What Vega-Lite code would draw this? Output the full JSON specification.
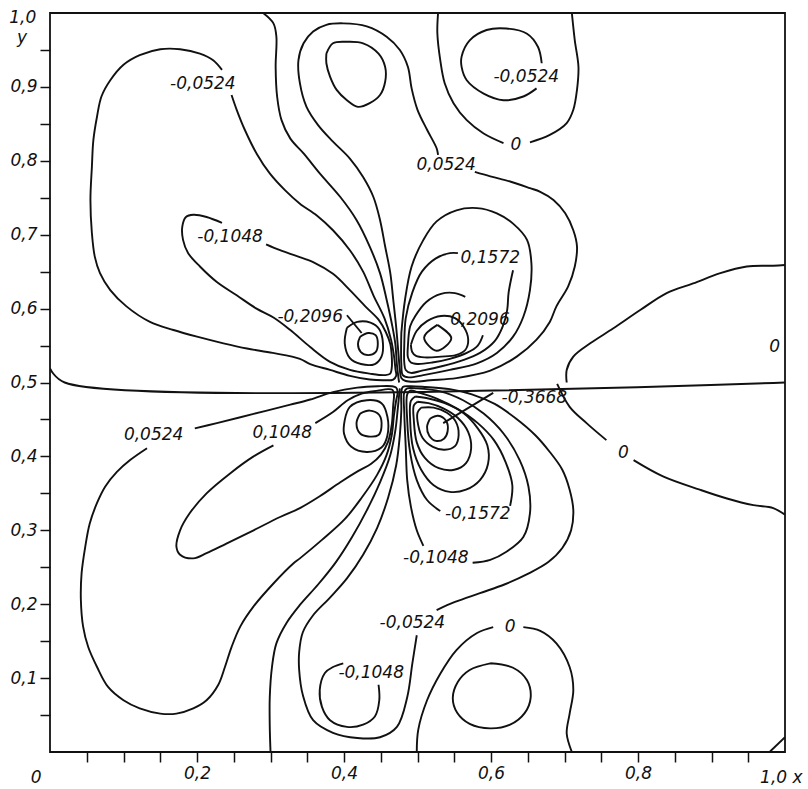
{
"$schema":"https://vega.github.io/schema/vega-lite/v6.json",
"width":735,"height":739,
"autosize":{"type":"none"},
"padding":{"left":50,"top":13,"right":23,"bottom":37},
"background":"white",
"config":{
"view":{"stroke":"#111","strokeWidth":1.8},
"axis":{"domain":false,"grid":false,"tickColor":"#111","tickWidth":1.5,"tickSize":10,"labelFont":"DejaVu Sans","labelFontStyle":"italic","labelFontSize":17,"labelColor":"#111","labelOverlap":false,"labelBound":false,"labelFlush":false,"labelPadding":3},
"text":{"font":"DejaVu Sans","fontStyle":"italic","fontSize":17,"fill":"#111","align":"center","baseline":"middle"}
},
"datasets":{
"lines":[
{"c":"mid","x":0,"y":0.519},{"c":"mid","x":0.02,"y":0.5},{"c":"mid","x":1,"y":0.5},
{"c":"br","x":0.979,"y":0},{"c":"br","x":1,"y":0.02},
{"c":"ul0","x":0.290,"y":1.0},{"c":"ul0","x":0.304,"y":0.986},{"c":"ul0","x":0.308,"y":0.968},{"c":"ul0","x":0.307,"y":0.927},{"c":"ul0","x":0.309,"y":0.887},{"c":"ul0","x":0.315,"y":0.855},{"c":"ul0","x":0.327,"y":0.830},{"c":"ul0","x":0.345,"y":0.810},{"c":"ul0","x":0.367,"y":0.783},{"c":"ul0","x":0.395,"y":0.751},{"c":"ul0","x":0.417,"y":0.720},{"c":"ul0","x":0.435,"y":0.684},{"c":"ul0","x":0.449,"y":0.648},{"c":"ul0","x":0.458,"y":0.612},{"c":"ul0","x":0.466,"y":0.575},{"c":"ul0","x":0.470,"y":0.551},{"c":"ul0","x":0.472,"y":0.524},{"c":"ul0","x":0.474,"y":0.507},{"c":"ul0","x":0.475,"y":0.5},
{"c":"ul1","x":0.247,"y":0.889},{"c":"ul1","x":0.254,"y":0.869},{"c":"ul1","x":0.265,"y":0.842},{"c":"ul1","x":0.281,"y":0.810},{"c":"ul1","x":0.299,"y":0.783},{"c":"ul1","x":0.320,"y":0.760},{"c":"ul1","x":0.340,"y":0.742},{"c":"ul1","x":0.363,"y":0.726},{"c":"ul1","x":0.385,"y":0.706},{"c":"ul1","x":0.408,"y":0.679},{"c":"ul1","x":0.426,"y":0.650},{"c":"ul1","x":0.440,"y":0.618},{"c":"ul1","x":0.455,"y":0.587},{"c":"ul1","x":0.464,"y":0.558},{"c":"ul1","x":0.468,"y":0.536},{"c":"ul1","x":0.470,"y":0.518},{"c":"ul1","x":0.471,"y":0.509},{"c":"ul1","x":0.467,"y":0.504},{"c":"ul1","x":0.456,"y":0.503},{"c":"ul1","x":0.435,"y":0.504},{"c":"ul1","x":0.408,"y":0.509},{"c":"ul1","x":0.381,"y":0.517},{"c":"ul1","x":0.354,"y":0.525},{"c":"ul1","x":0.340,"y":0.532},{"c":"ul1","x":0.303,"y":0.540},{"c":"ul1","x":0.268,"y":0.546},{"c":"ul1","x":0.236,"y":0.553},{"c":"ul1","x":0.200,"y":0.562},{"c":"ul1","x":0.168,"y":0.571},{"c":"ul1","x":0.136,"y":0.582},{"c":"ul1","x":0.104,"y":0.603},{"c":"ul1","x":0.082,"y":0.625},{"c":"ul1","x":0.068,"y":0.648},{"c":"ul1","x":0.061,"y":0.670},{"c":"ul1","x":0.057,"y":0.702},{"c":"ul1","x":0.055,"y":0.747},{"c":"ul1","x":0.057,"y":0.792},{"c":"ul1","x":0.059,"y":0.828},{"c":"ul1","x":0.064,"y":0.860},{"c":"ul1","x":0.070,"y":0.887},{"c":"ul1","x":0.082,"y":0.909},{"c":"ul1","x":0.100,"y":0.930},{"c":"ul1","x":0.122,"y":0.943},{"c":"ul1","x":0.150,"y":0.951},{"c":"ul1","x":0.177,"y":0.951},{"c":"ul1","x":0.204,"y":0.945},{"c":"ul1","x":0.222,"y":0.936},{"c":"ul1","x":0.234,"y":0.923},
{"c":"ul2","x":0.294,"y":0.687},{"c":"ul2","x":0.313,"y":0.679},{"c":"ul2","x":0.336,"y":0.671},{"c":"ul2","x":0.358,"y":0.663},{"c":"ul2","x":0.385,"y":0.647},{"c":"ul2","x":0.408,"y":0.625},{"c":"ul2","x":0.430,"y":0.602},{"c":"ul2","x":0.447,"y":0.585},{"c":"ul2","x":0.457,"y":0.568},{"c":"ul2","x":0.463,"y":0.552},{"c":"ul2","x":0.465,"y":0.535},{"c":"ul2","x":0.465,"y":0.520},{"c":"ul2","x":0.463,"y":0.512},{"c":"ul2","x":0.456,"y":0.510},{"c":"ul2","x":0.435,"y":0.512},{"c":"ul2","x":0.408,"y":0.517},{"c":"ul2","x":0.381,"y":0.528},{"c":"ul2","x":0.354,"y":0.548},{"c":"ul2","x":0.327,"y":0.571},{"c":"ul2","x":0.304,"y":0.588},{"c":"ul2","x":0.281,"y":0.600},{"c":"ul2","x":0.254,"y":0.618},{"c":"ul2","x":0.227,"y":0.636},{"c":"ul2","x":0.204,"y":0.657},{"c":"ul2","x":0.188,"y":0.675},{"c":"ul2","x":0.181,"y":0.693},{"c":"ul2","x":0.180,"y":0.711},{"c":"ul2","x":0.185,"y":0.724},{"c":"ul2","x":0.195,"y":0.727},{"c":"ul2","x":0.213,"y":0.724},{"c":"ul2","x":0.234,"y":0.716},
{"c":"ulb","x":0.404,"y":0.574},{"c":"ulb","x":0.418,"y":0.582},{"c":"ulb","x":0.436,"y":0.581},{"c":"ulb","x":0.448,"y":0.572},{"c":"ulb","x":0.453,"y":0.553},{"c":"ulb","x":0.451,"y":0.535},{"c":"ulb","x":0.442,"y":0.525},{"c":"ulb","x":0.423,"y":0.525},{"c":"ulb","x":0.408,"y":0.533},{"c":"ulb","x":0.401,"y":0.553},{"c":"ulb","x":0.404,"y":0.574},
{"c":"ula","x":0.422,"y":0.562},{"c":"ula","x":0.433,"y":0.567},{"c":"ula","x":0.443,"y":0.564},{"c":"ula","x":0.446,"y":0.552},{"c":"ula","x":0.443,"y":0.541},{"c":"ula","x":0.433,"y":0.537},{"c":"ula","x":0.423,"y":0.541},{"c":"ula","x":0.419,"y":0.552},{"c":"ula","x":0.422,"y":0.562},
{"c":"lead1","x":0.404,"y":0.591},{"c":"lead1","x":0.424,"y":0.567},
{"c":"la","x":0.376,"y":0.945},{"c":"la","x":0.385,"y":0.959},{"c":"la","x":0.404,"y":0.961},{"c":"la","x":0.426,"y":0.959},{"c":"la","x":0.447,"y":0.945},{"c":"la","x":0.456,"y":0.927},{"c":"la","x":0.456,"y":0.907},{"c":"la","x":0.449,"y":0.889},{"c":"la","x":0.435,"y":0.878},{"c":"la","x":0.419,"y":0.873},{"c":"la","x":0.404,"y":0.882},{"c":"la","x":0.390,"y":0.896},{"c":"la","x":0.381,"y":0.914},{"c":"la","x":0.376,"y":0.932},{"c":"la","x":0.376,"y":0.945},
{"c":"c3","x":0.528,"y":0.808},{"c":"c3","x":0.526,"y":0.817},{"c":"c3","x":0.513,"y":0.842},{"c":"c3","x":0.500,"y":0.869},{"c":"c3","x":0.492,"y":0.898},{"c":"c3","x":0.487,"y":0.927},{"c":"c3","x":0.476,"y":0.950},{"c":"c3","x":0.458,"y":0.968},{"c":"c3","x":0.431,"y":0.982},{"c":"c3","x":0.399,"y":0.986},{"c":"c3","x":0.376,"y":0.984},{"c":"c3","x":0.358,"y":0.975},{"c":"c3","x":0.345,"y":0.959},{"c":"c3","x":0.338,"y":0.936},{"c":"c3","x":0.340,"y":0.905},{"c":"c3","x":0.349,"y":0.873},{"c":"c3","x":0.365,"y":0.848},{"c":"c3","x":0.385,"y":0.826},{"c":"c3","x":0.408,"y":0.803},{"c":"c3","x":0.426,"y":0.778},{"c":"c3","x":0.440,"y":0.751},{"c":"c3","x":0.449,"y":0.720},{"c":"c3","x":0.456,"y":0.684},{"c":"c3","x":0.463,"y":0.648},{"c":"c3","x":0.467,"y":0.612},{"c":"c3","x":0.471,"y":0.575},{"c":"c3","x":0.474,"y":0.540},{"c":"c3","x":0.476,"y":0.517},{"c":"c3","x":0.478,"y":0.506},{"c":"c3","x":0.484,"y":0.502},{"c":"c3","x":0.497,"y":0.501},{"c":"c3","x":0.517,"y":0.503},{"c":"c3","x":0.553,"y":0.506},{"c":"c3","x":0.599,"y":0.516},{"c":"c3","x":0.635,"y":0.535},{"c":"c3","x":0.662,"y":0.558},{"c":"c3","x":0.680,"y":0.582},{"c":"c3","x":0.689,"y":0.603},{"c":"c3","x":0.705,"y":0.630},{"c":"c3","x":0.714,"y":0.657},{"c":"c3","x":0.717,"y":0.684},{"c":"c3","x":0.712,"y":0.706},{"c":"c3","x":0.701,"y":0.729},{"c":"c3","x":0.685,"y":0.747},{"c":"c3","x":0.667,"y":0.758},{"c":"c3","x":0.653,"y":0.763},{"c":"c3","x":0.626,"y":0.772},{"c":"c3","x":0.599,"y":0.779},{"c":"c3","x":0.578,"y":0.785},
{"c":"tr0a","x":0.528,"y":1.0},{"c":"tr0a","x":0.527,"y":0.973},{"c":"tr0a","x":0.531,"y":0.936},{"c":"tr0a","x":0.537,"y":0.905},{"c":"tr0a","x":0.549,"y":0.878},{"c":"tr0a","x":0.567,"y":0.855},{"c":"tr0a","x":0.590,"y":0.837},{"c":"tr0a","x":0.617,"y":0.824},
{"c":"tr0b","x":0.653,"y":0.825},{"c":"tr0b","x":0.680,"y":0.835},{"c":"tr0b","x":0.703,"y":0.851},{"c":"tr0b","x":0.712,"y":0.869},{"c":"tr0b","x":0.717,"y":0.896},{"c":"tr0b","x":0.719,"y":0.927},{"c":"tr0b","x":0.714,"y":0.963},{"c":"tr0b","x":0.710,"y":1.0},
{"c":"trl","x":0.669,"y":0.932},{"c":"trl","x":0.664,"y":0.954},{"c":"trl","x":0.649,"y":0.972},{"c":"trl","x":0.621,"y":0.979},{"c":"trl","x":0.594,"y":0.977},{"c":"trl","x":0.571,"y":0.963},{"c":"trl","x":0.560,"y":0.941},{"c":"trl","x":0.560,"y":0.927},{"c":"trl","x":0.567,"y":0.909},{"c":"trl","x":0.590,"y":0.891},{"c":"trl","x":0.617,"y":0.882},{"c":"trl","x":0.644,"y":0.887},{"c":"trl","x":0.662,"y":0.898},
{"c":"r0","x":1.0,"y":0.659},{"c":"r0","x":0.984,"y":0.658},{"c":"r0","x":0.948,"y":0.657},{"c":"r0","x":0.912,"y":0.648},{"c":"r0","x":0.875,"y":0.634},{"c":"r0","x":0.839,"y":0.621},{"c":"r0","x":0.803,"y":0.598},{"c":"r0","x":0.766,"y":0.573},{"c":"r0","x":0.735,"y":0.553},{"c":"r0","x":0.712,"y":0.535},{"c":"r0","x":0.703,"y":0.517},{"c":"r0","x":0.703,"y":0.5},
{"c":"c4","x":0.478,"y":0.567},{"c":"c4","x":0.483,"y":0.612},{"c":"c4","x":0.492,"y":0.657},{"c":"c4","x":0.508,"y":0.693},{"c":"c4","x":0.526,"y":0.718},{"c":"c4","x":0.553,"y":0.733},{"c":"c4","x":0.581,"y":0.736},{"c":"c4","x":0.608,"y":0.729},{"c":"c4","x":0.630,"y":0.715},{"c":"c4","x":0.649,"y":0.693},{"c":"c4","x":0.655,"y":0.661},{"c":"c4","x":0.653,"y":0.625},{"c":"c4","x":0.644,"y":0.589},{"c":"c4","x":0.630,"y":0.562},{"c":"c4","x":0.608,"y":0.540},{"c":"c4","x":0.581,"y":0.526},{"c":"c4","x":0.544,"y":0.517},{"c":"c4","x":0.508,"y":0.510},{"c":"c4","x":0.488,"y":0.507},{"c":"c4","x":0.480,"y":0.510},{"c":"c4","x":0.478,"y":0.525},{"c":"c4","x":0.478,"y":0.567},
{"c":"r2","x":0.630,"y":0.652},{"c":"r2","x":0.624,"y":0.622},{"c":"r2","x":0.622,"y":0.598},{"c":"r2","x":0.616,"y":0.576},{"c":"r2","x":0.605,"y":0.556},{"c":"r2","x":0.585,"y":0.540},{"c":"r2","x":0.561,"y":0.530},{"c":"r2","x":0.533,"y":0.522},{"c":"r2","x":0.506,"y":0.516},{"c":"r2","x":0.491,"y":0.513},{"c":"r2","x":0.484,"y":0.517},{"c":"r2","x":0.482,"y":0.527},{"c":"r2","x":0.482,"y":0.551},{"c":"r2","x":0.484,"y":0.587},{"c":"r2","x":0.493,"y":0.622},{"c":"r2","x":0.506,"y":0.650},{"c":"r2","x":0.525,"y":0.668},{"c":"r2","x":0.544,"y":0.675},{"c":"r2","x":0.555,"y":0.675},
{"c":"r3","x":0.589,"y":0.564},{"c":"r3","x":0.582,"y":0.550},{"c":"r3","x":0.567,"y":0.540},{"c":"r3","x":0.544,"y":0.532},{"c":"r3","x":0.520,"y":0.527},{"c":"r3","x":0.500,"y":0.525},{"c":"r3","x":0.491,"y":0.527},{"c":"r3","x":0.487,"y":0.534},{"c":"r3","x":0.487,"y":0.550},{"c":"r3","x":0.490,"y":0.576},{"c":"r3","x":0.497,"y":0.590},{"c":"r3","x":0.512,"y":0.609},{"c":"r3","x":0.532,"y":0.620},{"c":"r3","x":0.551,"y":0.621},{"c":"r3","x":0.565,"y":0.616},
{"c":"r4","x":0.491,"y":0.551},{"c":"r4","x":0.499,"y":0.570},{"c":"r4","x":0.513,"y":0.583},{"c":"r4","x":0.532,"y":0.590},{"c":"r4","x":0.551,"y":0.587},{"c":"r4","x":0.563,"y":0.575},{"c":"r4","x":0.569,"y":0.558},{"c":"r4","x":0.565,"y":0.544},{"c":"r4","x":0.552,"y":0.537},{"c":"r4","x":0.532,"y":0.535},{"c":"r4","x":0.510,"y":0.534},{"c":"r4","x":0.498,"y":0.536},{"c":"r4","x":0.493,"y":0.541},{"c":"r4","x":0.491,"y":0.551},
{"c":"dia","x":0.527,"y":0.578},{"c":"dia","x":0.546,"y":0.560},{"c":"dia","x":0.526,"y":0.543},{"c":"dia","x":0.509,"y":0.561},{"c":"dia","x":0.527,"y":0.578},
{"c":"lr0a","x":0.690,"y":0.498},{"c":"lr0a","x":0.707,"y":0.467},{"c":"lr0a","x":0.730,"y":0.445},{"c":"lr0a","x":0.757,"y":0.422},
{"c":"lr0b","x":0.794,"y":0.395},{"c":"lr0b","x":0.834,"y":0.373},{"c":"lr0b","x":0.884,"y":0.355},{"c":"lr0b","x":0.921,"y":0.343},{"c":"lr0b","x":0.957,"y":0.334},{"c":"lr0b","x":0.984,"y":0.330},{"c":"lr0b","x":1.0,"y":0.321},
{"c":"ll1","x":0.197,"y":0.438},{"c":"ll1","x":0.227,"y":0.445},{"c":"ll1","x":0.259,"y":0.453},{"c":"ll1","x":0.295,"y":0.462},{"c":"ll1","x":0.327,"y":0.470},{"c":"ll1","x":0.354,"y":0.477},{"c":"ll1","x":0.385,"y":0.487},{"c":"ll1","x":0.418,"y":0.493},{"c":"ll1","x":0.446,"y":0.495},{"c":"ll1","x":0.465,"y":0.495},{"c":"ll1","x":0.471,"y":0.493},{"c":"ll1","x":0.473,"y":0.487},{"c":"ll1","x":0.471,"y":0.476},{"c":"ll1","x":0.468,"y":0.456},{"c":"ll1","x":0.465,"y":0.429},{"c":"ll1","x":0.458,"y":0.402},{"c":"ll1","x":0.445,"y":0.375},{"c":"ll1","x":0.424,"y":0.344},{"c":"ll1","x":0.401,"y":0.315},{"c":"ll1","x":0.370,"y":0.287},{"c":"ll1","x":0.340,"y":0.262},{"c":"ll1","x":0.331,"y":0.255},{"c":"ll1","x":0.304,"y":0.228},{"c":"ll1","x":0.277,"y":0.197},{"c":"ll1","x":0.259,"y":0.170},{"c":"ll1","x":0.247,"y":0.142},{"c":"ll1","x":0.238,"y":0.115},{"c":"ll1","x":0.229,"y":0.091},{"c":"ll1","x":0.213,"y":0.070},{"c":"ll1","x":0.195,"y":0.059},{"c":"ll1","x":0.172,"y":0.052},{"c":"ll1","x":0.150,"y":0.052},{"c":"ll1","x":0.122,"y":0.059},{"c":"ll1","x":0.100,"y":0.070},{"c":"ll1","x":0.079,"y":0.088},{"c":"ll1","x":0.064,"y":0.115},{"c":"ll1","x":0.052,"y":0.142},{"c":"ll1","x":0.045,"y":0.170},{"c":"ll1","x":0.042,"y":0.206},{"c":"ll1","x":0.043,"y":0.242},{"c":"ll1","x":0.048,"y":0.278},{"c":"ll1","x":0.054,"y":0.309},{"c":"ll1","x":0.064,"y":0.337},{"c":"ll1","x":0.075,"y":0.359},{"c":"ll1","x":0.091,"y":0.379},{"c":"ll1","x":0.109,"y":0.395},{"c":"ll1","x":0.132,"y":0.411},
{"c":"ll2","x":0.361,"y":0.445},{"c":"ll2","x":0.385,"y":0.460},{"c":"ll2","x":0.405,"y":0.476},{"c":"ll2","x":0.424,"y":0.485},{"c":"ll2","x":0.446,"y":0.489},{"c":"ll2","x":0.460,"y":0.491},{"c":"ll2","x":0.466,"y":0.490},{"c":"ll2","x":0.468,"y":0.484},{"c":"ll2","x":0.467,"y":0.470},{"c":"ll2","x":0.465,"y":0.443},{"c":"ll2","x":0.460,"y":0.420},{"c":"ll2","x":0.450,"y":0.402},{"c":"ll2","x":0.437,"y":0.390},{"c":"ll2","x":0.419,"y":0.380},{"c":"ll2","x":0.395,"y":0.365},{"c":"ll2","x":0.367,"y":0.346},{"c":"ll2","x":0.340,"y":0.330},{"c":"ll2","x":0.313,"y":0.318},{"c":"ll2","x":0.277,"y":0.300},{"c":"ll2","x":0.240,"y":0.282},{"c":"ll2","x":0.213,"y":0.269},{"c":"ll2","x":0.195,"y":0.262},{"c":"ll2","x":0.177,"y":0.267},{"c":"ll2","x":0.172,"y":0.278},{"c":"ll2","x":0.177,"y":0.300},{"c":"ll2","x":0.190,"y":0.323},{"c":"ll2","x":0.213,"y":0.350},{"c":"ll2","x":0.245,"y":0.377},{"c":"ll2","x":0.277,"y":0.400},{"c":"ll2","x":0.304,"y":0.415},
{"c":"llb","x":0.401,"y":0.449},{"c":"llb","x":0.408,"y":0.467},{"c":"llb","x":0.431,"y":0.476},{"c":"llb","x":0.451,"y":0.472},{"c":"llb","x":0.459,"y":0.454},{"c":"llb","x":0.459,"y":0.428},{"c":"llb","x":0.451,"y":0.412},{"c":"llb","x":0.431,"y":0.406},{"c":"llb","x":0.410,"y":0.413},{"c":"llb","x":0.400,"y":0.431},{"c":"llb","x":0.401,"y":0.449},
{"c":"lla","x":0.422,"y":0.458},{"c":"lla","x":0.435,"y":0.462},{"c":"lla","x":0.448,"y":0.456},{"c":"lla","x":0.451,"y":0.440},{"c":"lla","x":0.447,"y":0.429},{"c":"lla","x":0.433,"y":0.427},{"c":"lla","x":0.422,"y":0.431},{"c":"lla","x":0.417,"y":0.445},{"c":"lla","x":0.422,"y":0.458},
{"c":"ll0","x":0.300,"y":0.001},{"c":"ll0","x":0.299,"y":0.034},{"c":"ll0","x":0.299,"y":0.074},{"c":"ll0","x":0.302,"y":0.115},{"c":"ll0","x":0.308,"y":0.147},{"c":"ll0","x":0.322,"y":0.175},{"c":"ll0","x":0.340,"y":0.199},{"c":"ll0","x":0.365,"y":0.227},{"c":"ll0","x":0.389,"y":0.257},{"c":"ll0","x":0.411,"y":0.291},{"c":"ll0","x":0.431,"y":0.327},{"c":"ll0","x":0.449,"y":0.365},{"c":"ll0","x":0.463,"y":0.402},{"c":"ll0","x":0.470,"y":0.436},{"c":"ll0","x":0.473,"y":0.463},{"c":"ll0","x":0.475,"y":0.483},{"c":"ll0","x":0.476,"y":0.492},
{"c":"lr1","x":0.526,"y":0.192},{"c":"lr1","x":0.551,"y":0.203},{"c":"lr1","x":0.585,"y":0.215},{"c":"lr1","x":0.619,"y":0.227},{"c":"lr1","x":0.650,"y":0.241},{"c":"lr1","x":0.678,"y":0.257},{"c":"lr1","x":0.697,"y":0.276},{"c":"lr1","x":0.709,"y":0.300},{"c":"lr1","x":0.712,"y":0.327},{"c":"lr1","x":0.707,"y":0.355},{"c":"lr1","x":0.697,"y":0.382},{"c":"lr1","x":0.680,"y":0.406},{"c":"lr1","x":0.660,"y":0.429},{"c":"lr1","x":0.633,"y":0.452},{"c":"lr1","x":0.605,"y":0.471},{"c":"lr1","x":0.574,"y":0.484},{"c":"lr1","x":0.544,"y":0.491},{"c":"lr1","x":0.510,"y":0.494},{"c":"lr1","x":0.490,"y":0.495},{"c":"lr1","x":0.480,"y":0.494},{"c":"lr1","x":0.478,"y":0.487},{"c":"lr1","x":0.478,"y":0.463},{"c":"lr1","x":0.476,"y":0.429},{"c":"lr1","x":0.471,"y":0.388},{"c":"lr1","x":0.460,"y":0.344},{"c":"lr1","x":0.445,"y":0.303},{"c":"lr1","x":0.426,"y":0.267},{"c":"lr1","x":0.404,"y":0.235},{"c":"lr1","x":0.380,"y":0.208},{"c":"lr1","x":0.358,"y":0.185},{"c":"lr1","x":0.344,"y":0.162},{"c":"lr1","x":0.339,"y":0.135},{"c":"lr1","x":0.339,"y":0.111},{"c":"lr1","x":0.344,"y":0.077},{"c":"lr1","x":0.358,"y":0.043},{"c":"lr1","x":0.385,"y":0.026},{"c":"lr1","x":0.418,"y":0.019},{"c":"lr1","x":0.449,"y":0.020},{"c":"lr1","x":0.472,"y":0.034},{"c":"lr1","x":0.486,"y":0.074},{"c":"lr1","x":0.493,"y":0.120},{"c":"lr1","x":0.499,"y":0.158},
{"c":"lr2","x":0.575,"y":0.256},{"c":"lr2","x":0.599,"y":0.260},{"c":"lr2","x":0.621,"y":0.271},{"c":"lr2","x":0.644,"y":0.291},{"c":"lr2","x":0.653,"y":0.323},{"c":"lr2","x":0.651,"y":0.359},{"c":"lr2","x":0.639,"y":0.395},{"c":"lr2","x":0.617,"y":0.431},{"c":"lr2","x":0.590,"y":0.458},{"c":"lr2","x":0.562,"y":0.476},{"c":"lr2","x":0.531,"y":0.488},{"c":"lr2","x":0.499,"y":0.492},{"c":"lr2","x":0.486,"y":0.492},{"c":"lr2","x":0.482,"y":0.487},{"c":"lr2","x":0.482,"y":0.459},{"c":"lr2","x":0.484,"y":0.413},{"c":"lr2","x":0.486,"y":0.368},{"c":"lr2","x":0.491,"y":0.332},{"c":"lr2","x":0.499,"y":0.300},{"c":"lr2","x":0.508,"y":0.279},
{"c":"lr3","x":0.626,"y":0.333},{"c":"lr3","x":0.629,"y":0.361},{"c":"lr3","x":0.620,"y":0.392},{"c":"lr3","x":0.604,"y":0.422},{"c":"lr3","x":0.582,"y":0.445},{"c":"lr3","x":0.555,"y":0.464},{"c":"lr3","x":0.527,"y":0.478},{"c":"lr3","x":0.503,"y":0.486},{"c":"lr3","x":0.490,"y":0.489},{"c":"lr3","x":0.486,"y":0.484},{"c":"lr3","x":0.486,"y":0.449},{"c":"lr3","x":0.490,"y":0.405},{"c":"lr3","x":0.499,"y":0.368},{"c":"lr3","x":0.513,"y":0.341},{"c":"lr3","x":0.531,"y":0.326},
{"c":"lr4","x":0.497,"y":0.481},{"c":"lr4","x":0.491,"y":0.475},{"c":"lr4","x":0.490,"y":0.449},{"c":"lr4","x":0.494,"y":0.411},{"c":"lr4","x":0.505,"y":0.382},{"c":"lr4","x":0.522,"y":0.361},{"c":"lr4","x":0.544,"y":0.352},{"c":"lr4","x":0.566,"y":0.355},{"c":"lr4","x":0.585,"y":0.368},{"c":"lr4","x":0.596,"y":0.390},{"c":"lr4","x":0.595,"y":0.415},{"c":"lr4","x":0.582,"y":0.438},{"c":"lr4","x":0.562,"y":0.459},{"c":"lr4","x":0.537,"y":0.472},{"c":"lr4","x":0.512,"y":0.479},{"c":"lr4","x":0.497,"y":0.481},
{"c":"lr5","x":0.500,"y":0.474},{"c":"lr5","x":0.495,"y":0.469},{"c":"lr5","x":0.495,"y":0.449},{"c":"lr5","x":0.499,"y":0.419},{"c":"lr5","x":0.510,"y":0.398},{"c":"lr5","x":0.529,"y":0.384},{"c":"lr5","x":0.550,"y":0.382},{"c":"lr5","x":0.566,"y":0.391},{"c":"lr5","x":0.573,"y":0.411},{"c":"lr5","x":0.569,"y":0.433},{"c":"lr5","x":0.555,"y":0.452},{"c":"lr5","x":0.535,"y":0.465},{"c":"lr5","x":0.515,"y":0.472},{"c":"lr5","x":0.500,"y":0.474},
{"c":"lr6","x":0.505,"y":0.466},{"c":"lr6","x":0.500,"y":0.459},{"c":"lr6","x":0.501,"y":0.442},{"c":"lr6","x":0.507,"y":0.425},{"c":"lr6","x":0.521,"y":0.413},{"c":"lr6","x":0.537,"y":0.409},{"c":"lr6","x":0.551,"y":0.414},{"c":"lr6","x":0.556,"y":0.429},{"c":"lr6","x":0.552,"y":0.447},{"c":"lr6","x":0.540,"y":0.459},{"c":"lr6","x":0.522,"y":0.466},{"c":"lr6","x":0.505,"y":0.466},
{"c":"lr7","x":0.517,"y":0.451},{"c":"lr7","x":0.528,"y":0.455},{"c":"lr7","x":0.539,"y":0.448},{"c":"lr7","x":0.541,"y":0.434},{"c":"lr7","x":0.536,"y":0.424},{"c":"lr7","x":0.525,"y":0.421},{"c":"lr7","x":0.516,"y":0.428},{"c":"lr7","x":0.513,"y":0.440},{"c":"lr7","x":0.517,"y":0.451},
{"c":"lead2","x":0.603,"y":0.486},{"c":"lead2","x":0.535,"y":0.445},
{"c":"bl","x":0.447,"y":0.091},{"c":"bl","x":0.448,"y":0.070},{"c":"bl","x":0.442,"y":0.048},{"c":"bl","x":0.426,"y":0.037},{"c":"bl","x":0.404,"y":0.034},{"c":"bl","x":0.381,"y":0.043},{"c":"bl","x":0.370,"y":0.061},{"c":"bl","x":0.367,"y":0.084},{"c":"bl","x":0.374,"y":0.107},{"c":"bl","x":0.385,"y":0.115},{"c":"bl","x":0.399,"y":0.120},
{"c":"bc","x":0.599,"y":0.120},{"c":"bc","x":0.630,"y":0.114},{"c":"bc","x":0.649,"y":0.097},{"c":"bc","x":0.654,"y":0.074},{"c":"bc","x":0.646,"y":0.053},{"c":"bc","x":0.626,"y":0.037},{"c":"bc","x":0.599,"y":0.032},{"c":"bc","x":0.571,"y":0.038},{"c":"bc","x":0.554,"y":0.053},{"c":"bc","x":0.548,"y":0.073},{"c":"bc","x":0.555,"y":0.095},{"c":"bc","x":0.571,"y":0.111},{"c":"bc","x":0.599,"y":0.120},
{"c":"b0a","x":0.499,"y":0.0},{"c":"b0a","x":0.501,"y":0.030},{"c":"b0a","x":0.513,"y":0.070},{"c":"b0a","x":0.531,"y":0.106},{"c":"b0a","x":0.553,"y":0.138},{"c":"b0a","x":0.581,"y":0.161},{"c":"b0a","x":0.603,"y":0.169},
{"c":"b0b","x":0.644,"y":0.169},{"c":"b0b","x":0.667,"y":0.164},{"c":"b0b","x":0.689,"y":0.147},{"c":"b0b","x":0.707,"y":0.115},{"c":"b0b","x":0.712,"y":0.084},{"c":"b0b","x":0.707,"y":0.052},{"c":"b0b","x":0.703,"y":0.025},{"c":"b0b","x":0.710,"y":0.0}
],
"labels":[
{"t":"-0,0524","x":0.208,"y":0.904},
{"t":"-0,0524","x":0.648,"y":0.914},
{"t":"0","x":0.634,"y":0.822},
{"t":"0,0524","x":0.539,"y":0.794},
{"t":"-0,1048","x":0.245,"y":0.697},
{"t":"0,1572","x":0.599,"y":0.668},
{"t":"-0,2096","x":0.354,"y":0.589},
{"t":"0,2096","x":0.585,"y":0.585},
{"t":"0","x":0.986,"y":0.548},
{"t":"-0,3668","x":0.659,"y":0.479},
{"t":"0,0524","x":0.141,"y":0.429},
{"t":"0,1048","x":0.316,"y":0.432},
{"t":"0","x":0.780,"y":0.405},
{"t":"-0,1572","x":0.582,"y":0.322},
{"t":"-0,1048","x":0.525,"y":0.263},
{"t":"-0,0524","x":0.493,"y":0.175},
{"t":"0","x":0.626,"y":0.169},
{"t":"-0,1048","x":0.437,"y":0.107},
{"t":"0","x":-0.019,"y":-0.035},
{"t":"1,0 x","x":0.995,"y":-0.035},
{"t":"1,0","x":-0.037,"y":0.993},
{"t":"y","x":-0.038,"y":0.966}
]
},
"encoding":{
"x":{"field":"x","type":"quantitative","scale":{"domain":[0,1],"nice":false,"zero":false},"axis":{"title":null,"values":[0.05,0.1,0.15,0.2,0.25,0.3,0.35,0.4,0.45,0.5,0.55,0.6,0.65,0.7,0.75,0.8,0.85,0.9,0.95],"labelExpr":"round(datum.value*20)%4==0 ? replace(format(datum.value,'.1f'),'.',',') : ''"}},
"y":{"field":"y","type":"quantitative","scale":{"domain":[0,1],"nice":false,"zero":false},"axis":{"title":null,"values":[0.05,0.1,0.15,0.2,0.25,0.3,0.35,0.4,0.45,0.5,0.55,0.6,0.65,0.7,0.75,0.8,0.85,0.9,0.95],"labelExpr":"round(datum.value*20)%2==0 ? replace(format(datum.value,'.1f'),'.',',') : ''"}}
},
"layer":[
{"data":{"name":"lines"},
"mark":{"type":"line","stroke":"#111","strokeWidth":1.9,"interpolate":"catmull-rom","clip":true},
"encoding":{"detail":{"field":"c"},"order":{"value":null}}},
{"data":{"name":"labels"},
"mark":{"type":"text","clip":false},
"encoding":{"text":{"field":"t"}}}
]
}
